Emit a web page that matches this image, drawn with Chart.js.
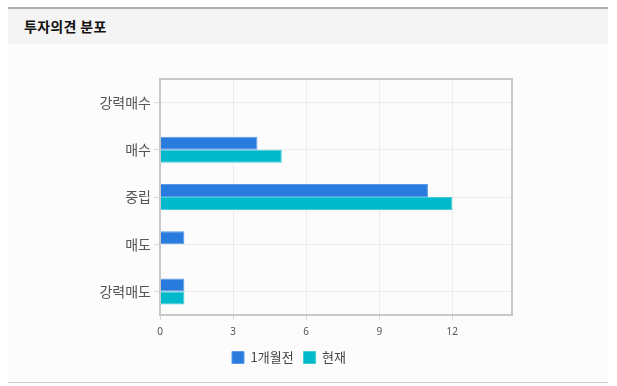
<!DOCTYPE html>
<html>
<head>
<meta charset="utf-8">
<script src="https://cdn.jsdelivr.net/npm/chart.js@4/dist/chart.umd.min.js"></script>
<style>
  html, body { margin: 0; padding: 0; background: #ffffff; width: 617px; height: 386px; overflow: hidden; }
  #box { position: absolute; left: 8px; top: 7px; width: 600px; height: 376px; border-top: 2px solid #b0b0b0; border-bottom: 1px solid #cccccc; background: #fcfcfc; box-sizing: border-box; }
  #hdr { position: absolute; left: 0; top: 0; width: 600px; height: 35px; background: #f4f4f4; }
  #hdr span { position: absolute; left: 16px; top: 9px; font-family: "Noto Sans CJK KR", sans-serif; font-weight: bold; font-size: 14px; letter-spacing: 0.3px; color: #111; line-height: 16px; }
  #wrap { position: absolute; left: 58px; top: 35px; width: 504px; height: 338px; }
</style>
</head>
<body>
<div id="box">
  <div id="hdr"><span>투자의견 분포</span></div>
  <div id="wrap"><canvas id="c" width="504" height="338"></canvas></div>
</div>
<script>
const categories = ['강력매수', '매수', '중립', '매도', '강력매도'];
const seriesNames = ['1개월전', '현재'];
const monthAgo = [0, 4, 11, 1, 1];
const current = [0, 5, 12, 0, 1];
const xTicks = [0, 3, 6, 9, 12];

const frame = {
  id: 'frame',
  afterDraw(chart) {
    const a = chart.chartArea, ctx = chart.ctx;
    ctx.save();
    ctx.strokeStyle = '#c8c8c8';
    ctx.lineWidth = 2;
    ctx.strokeRect(a.left, a.top, a.right - a.left, a.bottom - a.top);
    ctx.restore();
  }
};

new Chart(document.getElementById('c'), {
  type: 'bar',
  data: {
    labels: categories,
    datasets: [
      { label: seriesNames[0], data: monthAgo, backgroundColor: '#2a7bde', borderColor: '#5a9ae8', borderWidth: 1, categoryPercentage: 0.55, barPercentage: 1 },
      { label: seriesNames[1], data: current, backgroundColor: '#00bacc', borderColor: '#40ccd8', borderWidth: 1, categoryPercentage: 0.55, barPercentage: 1 }
    ]
  },
  plugins: [frame],
  options: {
    indexAxis: 'y',
    responsive: false,
    animation: false,
    layout: { padding: { top: 35, right: 58, left: 0, bottom: 8 } },
    scales: {
      y: {
        afterFit(s) { s.width = 94; },
        grid: { offset: false, color: '#ececec', tickLength: 6, tickColor: '#d8d8d8' },
        border: { display: false },
        ticks: { color: '#555', padding: 3, font: { family: '"Noto Sans CJK KR", sans-serif', size: 14 } }
      },
      x: {
        min: 0,
        max: 14.45,
        afterFit(s) { s.height = 26; },
        afterBuildTicks(s) { s.ticks = xTicks.map(v => ({ value: v })); },
        grid: { color: '#ececec', tickLength: 5, tickColor: '#d8d8d8' },
        border: { display: false },
        ticks: { color: '#555', padding: 6, font: { family: '"Noto Sans", sans-serif', size: 10 } }
      }
    },
    plugins: {
      tooltip: { enabled: false },
      legend: {
        position: 'bottom',
        labels: { boxWidth: 12, boxHeight: 12, padding: 10, color: '#444', font: { family: '"Noto Sans CJK KR", sans-serif', size: 13 } }
      }
    }
  }
});
</script>
</body>
</html>
